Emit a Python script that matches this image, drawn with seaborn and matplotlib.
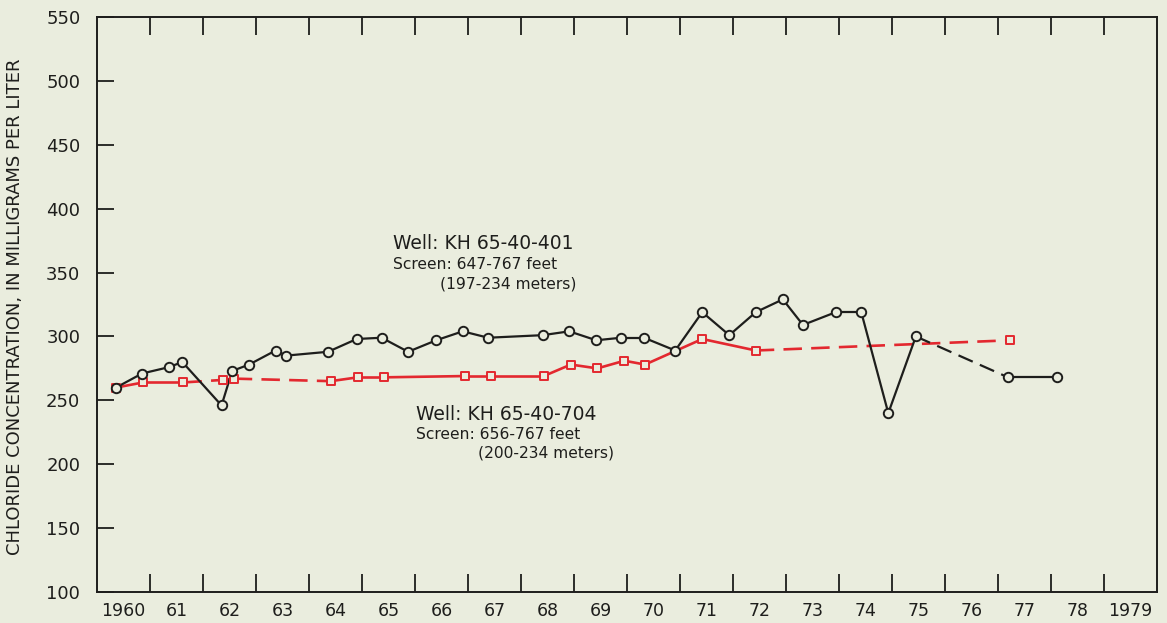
# -*- coding: utf-8 -*-
# chloride concentration in two wells, 1960-1979
import numpy as np
import pandas as pd
import seaborn as sns
import matplotlib.pyplot as plt

# well KH 65-40-401 (black, circles)
year_401 = [1960.36, 1960.85, 1961.36, 1961.61, 1962.35, 1962.55, 1962.87, 1963.37,
            1963.57, 1964.36, 1964.90, 1965.37, 1965.87, 1966.40, 1966.90, 1967.38,
            1968.41, 1968.91, 1969.42, 1969.89, 1970.32, 1970.91, 1971.42, 1971.93,
            1972.43, 1972.94, 1973.32, 1973.94, 1974.42, 1974.93, 1975.45, 1977.19,
            1978.12]
chloride_401 = [260, 271, 276, 280, 246, 273, 278, 289,
                285, 288, 298, 299, 288, 297, 304, 299,
                301, 304, 297, 299, 299, 289, 319, 301,
                319, 329, 309, 319, 319, 240, 300, 268,
                268]
dashed_401 = [30]  # segment index i -> i+1 drawn dashed

# well KH 65-40-704 (red, squares)
year_704 = [1960.36, 1960.87, 1961.63, 1962.38, 1962.58, 1964.41, 1964.92, 1965.42,
            1966.94, 1967.43, 1968.43, 1968.94, 1969.44, 1969.95, 1970.34, 1971.42,
            1972.43, 1977.23]
chloride_704 = [260, 264, 264, 266, 267, 265, 268, 268,
                269, 269, 269, 278, 275, 281, 278, 298,
                289, 297]
dashed_704 = [2, 3, 4, 16]

year_ticks = list(range(1961, 1980))
year_labels = ["1960"] + [str(y)[2:] for y in range(1961, 1979)] + ["1979"]
chloride_ticks = list(range(100, 551, 50))

bg = "#eaedde"
red = "#e3282f"
black = "#1e1e1c"

sns.set_theme(style="ticks")
plt.rcParams["font.family"] = ["DejaVu Sans"]

fig = plt.figure(figsize=(11.67, 6.23), dpi=100, facecolor=bg)
ax = fig.add_axes([97 / 1167, 31 / 623, 1060 / 1167, 575 / 623])
ax.set_facecolor(bg)


def draw_series(years, values, dashed, color, lw, marker, ms, z):
    df = pd.DataFrame({"year": years, "chloride": values})
    for i in range(len(df) - 1):
        seg = df.iloc[i:i + 2]
        ls = (0, (7, 3.5)) if i in dashed else "-"
        sns.lineplot(data=seg, x="year", y="chloride", ax=ax, color=color,
                     linewidth=lw, linestyle=ls, sort=False, estimator=None,
                     zorder=z)
    sns.scatterplot(data=df, x="year", y="chloride", ax=ax, marker=marker,
                    s=ms, facecolor=bg, edgecolor=color, linewidth=1.4,
                    zorder=z + 2)


draw_series(year_704, chloride_704, dashed_704, red, 1.9, "s", 40, 2)
draw_series(year_401, chloride_401, dashed_401, black, 1.6, "o", 46, 3)

ax.set_xlim(1960, 1980)
ax.set_ylim(100, 550)

ax.set_xticks(year_ticks)
ax.set_xticklabels([])
ax.set_xticks(np.arange(1960.5, 1980, 1), minor=True)
ax.set_xticklabels(year_labels, minor=True)
ax.tick_params(axis="x", which="major", direction="in", length=13, width=1.3,
               top=True, bottom=True, color=black)
ax.tick_params(axis="x", which="minor", length=0, pad=7, labelsize=12.5,
               labelcolor=black)

ax.set_yticks(chloride_ticks)
ax.tick_params(axis="y", direction="in", length=12, width=1.3, pad=12,
               labelsize=13, color=black, labelcolor=black)

for sp in ax.spines.values():
    sp.set_color(black)
    sp.set_linewidth(1.4)

ax.set_xlabel("")
ax.set_ylabel("CHLORIDE CONCENTRATION, IN MILLIGRAMS PER LITER", fontsize=13,
              color=black)
ax.yaxis.set_label_coords(-0.069, 0.496)

# annotations
ax.text(1965.58, 373, "Well: KH 65-40-401", fontsize=13.5, color=black, va="center")
ax.text(1965.58, 356, "Screen: 647-767 feet", fontsize=11.2, color=black, va="center")
ax.text(1966.47, 341, "(197-234 meters)", fontsize=11.2, color=black, va="center")
ax.text(1966.02, 239, "Well: KH 65-40-704", fontsize=13.5, color=black, va="center")
ax.text(1966.02, 223.6, "Screen: 656-767 feet", fontsize=11.2, color=black, va="center")
ax.text(1967.19, 208.8, "(200-234 meters)", fontsize=11.2, color=black, va="center")

fig.savefig("out.png", dpi=100, facecolor=bg)
